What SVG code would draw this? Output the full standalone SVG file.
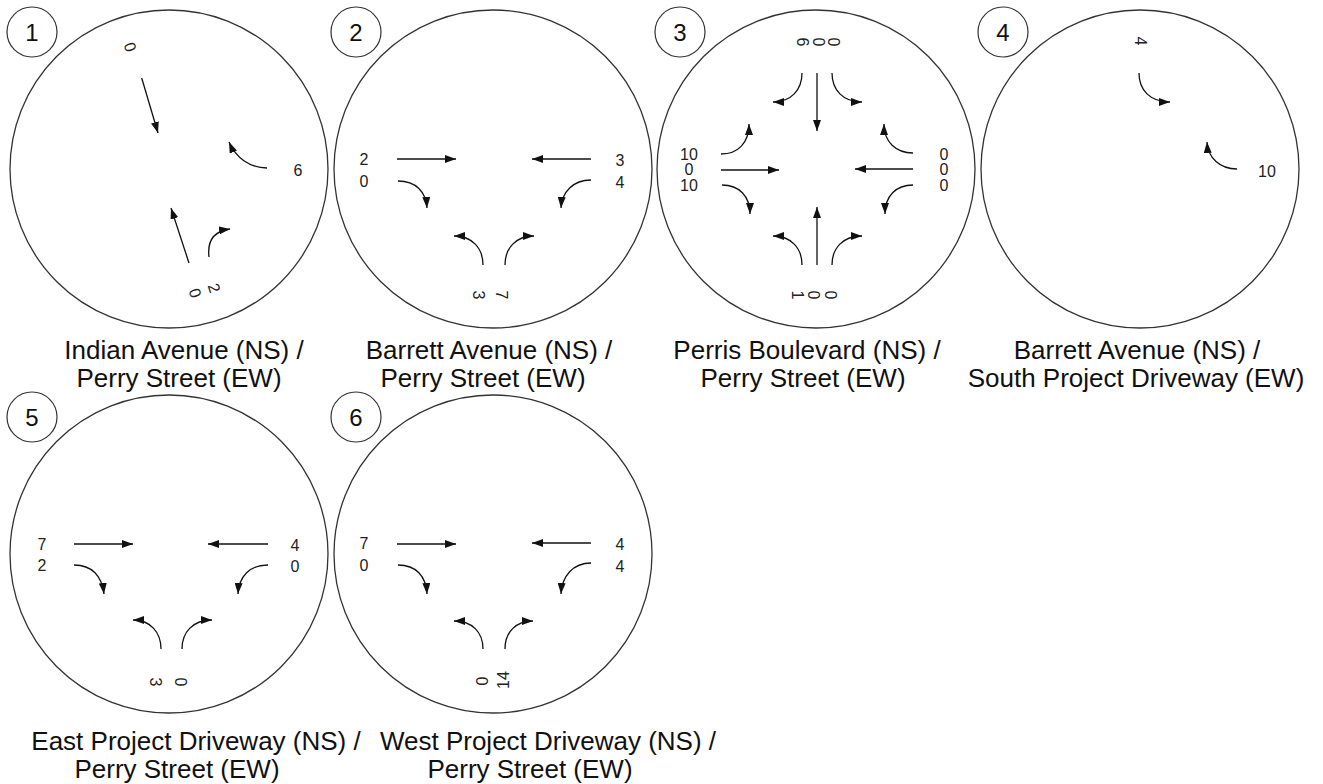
<svg xmlns="http://www.w3.org/2000/svg" width="1323" height="784" viewBox="0 0 1323 784">
  <defs>
    <marker id="ah" markerUnits="userSpaceOnUse" markerWidth="11" markerHeight="8" refX="11" refY="4" orient="auto">
      <path d="M0,0 L11,4 L0,8 z" fill="#111"/>
    </marker>
    <style>
      .ring { fill: none; stroke: #333; stroke-width: 1.3; }
      .badge { fill: #fff; stroke: #333; stroke-width: 1.2; }
      .num { font-family: "Liberation Sans", Arial, sans-serif; font-size: 24px; fill: #111; text-anchor: middle; }
      .vol { font-family: "Liberation Sans", Arial, sans-serif; font-size: 16px; fill: #222; text-anchor: middle; }
      .rv { font-family: "Liberation Sans", Arial, sans-serif; font-size: 16px; fill: #222; text-anchor: middle; dominant-baseline: central; }
      .cap { font-family: "Liberation Sans", Arial, sans-serif; font-size: 26px; fill: #111; text-anchor: middle; }
      .mv { fill: none; stroke: #111; stroke-width: 1.3; marker-end: url(#ah); }
    </style>
  </defs>

  <rect width="1323" height="784" fill="#fff"/>

  <!-- intersection 1 -->
  <g id="int1">
    <circle class="ring" cx="169" cy="169" r="159"/>
    <circle class="badge" cx="32" cy="32" r="25"/>
    <text class="num" x="32" y="41">1</text>
    <text class="rv" transform="translate(130,47) rotate(72)">0</text>
    <text class="rv" transform="translate(214,288) rotate(72)">2</text>
    <text class="rv" transform="translate(195,293) rotate(72)">0</text>
    <text class="vol" x="298" y="176">6</text>
    <text class="cap"><tspan x="184" y="359">Indian Avenue (NS) /</tspan><tspan x="179" y="387">Perry Street (EW)</tspan></text>
  </g>

  <!-- intersection 2 -->
  <g id="int2">
    <circle class="ring" cx="493" cy="169" r="159"/>
    <circle class="badge" cx="356" cy="32" r="25"/>
    <text class="num" x="356" y="41">2</text>
    <text class="vol" x="364" y="165">2</text>
    <text class="vol" x="364" y="187">0</text>
    <text class="vol" x="620" y="166">3</text>
    <text class="vol" x="620" y="188">4</text>
    <text class="rv" transform="translate(501,295) rotate(90)">7</text>
    <text class="rv" transform="translate(478,295) rotate(90)">3</text>
    <text class="cap"><tspan x="489" y="359">Barrett Avenue (NS) /</tspan><tspan x="483" y="387">Perry Street (EW)</tspan></text>
  </g>

  <!-- intersection 3 -->
  <g id="int3">
    <circle class="ring" cx="816" cy="169" r="159"/>
    <circle class="badge" cx="680" cy="32" r="25"/>
    <text class="num" x="680" y="41">3</text>
    <text class="rv" transform="translate(802,42) rotate(90)">6</text>
    <text class="rv" transform="translate(818,42) rotate(90)">0</text>
    <text class="rv" transform="translate(833,42) rotate(90)">0</text>
    <text class="vol" x="689" y="160">10</text>
    <text class="vol" x="689" y="175">0</text>
    <text class="vol" x="689" y="191">10</text>
    <text class="vol" x="944" y="160">0</text>
    <text class="vol" x="944" y="175">0</text>
    <text class="vol" x="944" y="191">0</text>
    <text class="rv" transform="translate(797,295) rotate(90)">1</text>
    <text class="rv" transform="translate(813,295) rotate(90)">0</text>
    <text class="rv" transform="translate(830,295) rotate(90)">0</text>
    <text class="cap"><tspan x="807" y="359">Perris Boulevard (NS) /</tspan><tspan x="803" y="387">Perry Street (EW)</tspan></text>
  </g>

  <!-- intersection 4 -->
  <g id="int4">
    <circle class="ring" cx="1140" cy="169" r="159"/>
    <circle class="badge" cx="1003" cy="32" r="25"/>
    <text class="num" x="1003" y="41">4</text>
    <text class="rv" transform="translate(1140,41) rotate(90)">4</text>
    <text class="vol" x="1267" y="177">10</text>
    <text class="cap"><tspan x="1137" y="359">Barrett Avenue (NS) /</tspan><tspan x="1136" y="387">South Project Driveway (EW)</tspan></text>
  </g>

  <!-- intersection 5 -->
  <g id="int5">
    <circle class="ring" cx="169" cy="554" r="159"/>
    <circle class="badge" cx="32" cy="417" r="25"/>
    <text class="num" x="32" y="426">5</text>
    <text class="vol" x="42" y="550">7</text>
    <text class="vol" x="42" y="571">2</text>
    <text class="vol" x="295" y="551">4</text>
    <text class="vol" x="295" y="572">0</text>
    <text class="rv" transform="translate(180,682) rotate(90)">0</text>
    <text class="rv" transform="translate(155,682) rotate(90)">3</text>
    <text class="cap"><tspan x="196" y="750">East Project Driveway (NS) /</tspan><tspan x="177" y="778">Perry Street (EW)</tspan></text>
  </g>

  <!-- intersection 6 -->
  <g id="int6">
    <circle class="ring" cx="493" cy="554" r="159"/>
    <circle class="badge" cx="356" cy="417" r="25"/>
    <text class="num" x="356" y="426">6</text>
    <text class="vol" x="364" y="549">7</text>
    <text class="vol" x="364" y="571">0</text>
    <text class="vol" x="620" y="550">4</text>
    <text class="vol" x="620" y="572">4</text>
    <text class="rv" transform="translate(482,681) rotate(-90)">0</text>
    <text class="rv" transform="translate(503,680) rotate(-90)">14</text>
    <text class="cap"><tspan x="548" y="750">West Project Driveway (NS) /</tspan><tspan x="530" y="778">Perry Street (EW)</tspan></text>
  </g>

  <!-- turning-movement arrows -->
  <g id="connectors">
    <!-- 1 -->
    <path class="mv" d="M141.7,78 L158,133"/>
    <path class="mv" d="M267,168 C250,168 236,158 229,142"/>
    <path class="mv" d="M189,263 L171,208"/>
    <path class="mv" d="M209,257 C207,240 215,231 230,229"/>
    <!-- 2 -->
    <path class="mv" d="M397,159 L456,159"/>
    <path class="mv" d="M398,181 C416,181 426,192 427,208"/>
    <path class="mv" d="M591,159 L532,159"/>
    <path class="mv" d="M591,180 C573,180 562,192 561,208"/>
    <path class="mv" d="M483,265 C483,248 472,236 454,236"/>
    <path class="mv" d="M505,265 C505,248 516,236 534,236"/>
    <!-- 3 -->
    <path class="mv" d="M802,73 C802,90 791,102 773,102"/>
    <path class="mv" d="M817,73 L817,131"/>
    <path class="mv" d="M832,73 C832,90 843,102 862,102"/>
    <path class="mv" d="M721,154 C738,154 749,143 749,124"/>
    <path class="mv" d="M721,170 L779,170"/>
    <path class="mv" d="M722,185 C739,185 750,196 750,214"/>
    <path class="mv" d="M913,153 C896,153 884,142 884,124"/>
    <path class="mv" d="M913,169 L855,169"/>
    <path class="mv" d="M913,185 C896,185 885,196 885,214"/>
    <path class="mv" d="M802,265 C802,248 791,236 773,236"/>
    <path class="mv" d="M817,265 L817,207"/>
    <path class="mv" d="M832,265 C832,248 843,236 862,236"/>
    <!-- 4 -->
    <path class="mv" d="M1139,73 C1139,90 1150,102 1170,102"/>
    <path class="mv" d="M1237,169 C1220,169 1208,158 1207,142"/>
    <!-- 5 -->
    <path class="mv" d="M74,544 L133,544"/>
    <path class="mv" d="M74,565 C92,565 102,576 104,594"/>
    <path class="mv" d="M268,544 L208,544"/>
    <path class="mv" d="M268,565 C250,565 239,576 238,594"/>
    <path class="mv" d="M161,649 C161,632 150,620 133,620"/>
    <path class="mv" d="M182,649 C182,632 193,620 212,620"/>
    <!-- 6 -->
    <path class="mv" d="M397,544 L456,544"/>
    <path class="mv" d="M398,565 C416,565 426,576 427,594"/>
    <path class="mv" d="M591,543 L532,543"/>
    <path class="mv" d="M591,563 C573,563 562,576 561,594"/>
    <path class="mv" d="M483,649 C483,632 472,621 454,621"/>
    <path class="mv" d="M505,649 C505,632 516,621 533,621"/>
  </g>
</svg>
